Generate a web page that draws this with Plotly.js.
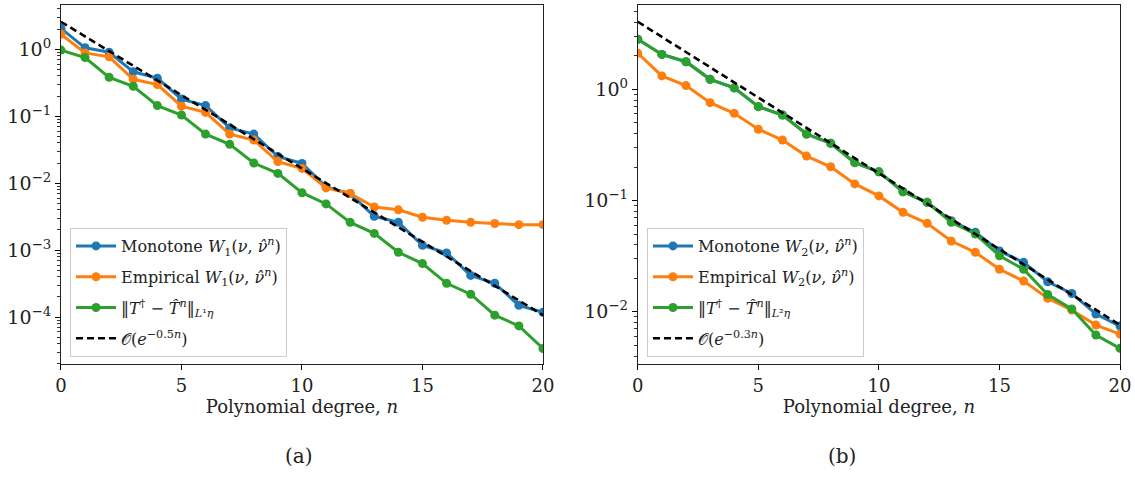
<!DOCTYPE html>
<html>
<head>
<meta charset="utf-8">
<script src="https://cdn.plot.ly/plotly-3.0.1.min.js"></script>
<style>html,body{margin:0;padding:0;background:#fff;}</style>
</head>
<body>
<div id="chart" style="width:1135px;height:481px;"></div>
<script>
// ---- data ----
const degrees = [0,1,2,3,4,5,6,7,8,9,10,11,12,13,14,15,16,17,18,19,20];

// panel (a)
const monotoneW1 = [2.05,1.05,0.90,0.46,0.37,0.18,0.144,0.067,0.054,0.025,0.0197,0.0088,0.0070,0.0032,0.0026,0.00118,0.00091,0.00042,0.00032,0.00015,0.000118];
const empiricalW1 = [1.67,0.88,0.77,0.356,0.297,0.141,0.114,0.054,0.044,0.021,0.0166,0.0085,0.0070,0.0044,0.0040,0.0031,0.0028,0.0026,0.0025,0.0024,0.0024];
const mapErrL1 = [0.97,0.75,0.38,0.28,0.144,0.104,0.054,0.038,0.020,0.014,0.0072,0.0049,0.0026,0.00178,0.00093,0.00063,0.00032,0.00022,0.000107,0.000074,0.000034];
const rateA_n = [0,20];
const rateA = [2.57,0.000107];

// panel (b)
const monotoneW2 = [2.82,2.06,1.77,1.23,1.03,0.698,0.587,0.396,0.327,0.219,0.181,0.120,0.0963,0.0658,0.0518,0.0352,0.0278,0.0186,0.0146,0.00953,0.00744];
const empiricalW2 = [2.11,1.32,1.08,0.758,0.608,0.437,0.350,0.251,0.201,0.141,0.110,0.0783,0.0624,0.0432,0.0342,0.0241,0.0189,0.0132,0.01035,0.00759,0.00630];
const mapErrL2 = [2.82,2.06,1.77,1.23,1.03,0.698,0.587,0.396,0.327,0.219,0.181,0.120,0.0963,0.0637,0.050,0.0319,0.0241,0.0143,0.0106,0.00618,0.00469];
const rateB_n = [0,20];
const rateB = [4.05,0.0076];

// ticks
const xTickVals = [0,5,10,15,20];
const xTickText = ['0','5','10','15','20'];
const yTickValsA = [1,0.1,0.01,0.001,0.0001];
const yTickTextA = ['10<sup>0</sup>','10<sup>−1</sup>','10<sup>−2</sup>','10<sup>−3</sup>','10<sup>−4</sup>'];
const yTickValsB = [1,0.1,0.01];
const yTickTextB = ['10<sup>0</sup>','10<sup>−1</sup>','10<sup>−2</sup>'];

const namesA = [
  'Monotone <i>W</i><sub>1</sub>(<i>ν</i>, <i>ν̂</i><sup><i>n</i></sup>)',
  'Empirical <i>W</i><sub>1</sub>(<i>ν</i>, <i>ν̂</i><sup><i>n</i></sup>)',
  '‖<i>T</i><sup>†</sup> − <i>T̂</i><sup><i>n</i></sup>‖<sub><i>L</i>¹<i>η</i></sub>',
  '𝒪(<i>e</i><sup>−0.5<i>n</i></sup>)'
];
const namesB = [
  'Monotone <i>W</i><sub>2</sub>(<i>ν</i>, <i>ν̂</i><sup><i>n</i></sup>)',
  'Empirical <i>W</i><sub>2</sub>(<i>ν</i>, <i>ν̂</i><sup><i>n</i></sup>)',
  '‖<i>T</i><sup>†</sup> − <i>T̂</i><sup><i>n</i></sup>‖<sub><i>L</i>²<i>η</i></sub>',
  '𝒪(<i>e</i><sup>−0.3<i>n</i></sup>)'
];

const colors = ['#1f77b4','#ff7f0e','#2ca02c','#000000'];
const FONT = "'DejaVu Serif', serif";

function series(x, y, i, name, xa, ya, leg) {
  return {
    x: x, y: y, name: name, xaxis: xa, yaxis: ya, legend: leg,
    legendgroup: leg + i,
    type: 'scatter', mode: 'lines+markers',
    line: {color: colors[i], width: 3},
    marker: {color: colors[i], size: 9}
  };
}
function rate(x, y, name, xa, ya, leg) {
  return {
    x: x, y: y, name: name, xaxis: xa, yaxis: ya, legend: leg,
    legendgroup: leg + '3',
    type: 'scatter', mode: 'lines',
    line: {color: '#000', width: 2.6, dash: '7px,4px'}
  };
}

const traces = [
  series(degrees, monotoneW1, 0, namesA[0], 'x', 'y', 'legend'),
  series(degrees, empiricalW1, 1, namesA[1], 'x', 'y', 'legend'),
  series(degrees, mapErrL1, 2, namesA[2], 'x', 'y', 'legend'),
  rate(rateA_n, rateA, namesA[3], 'x', 'y', 'legend'),
  series(degrees, monotoneW2, 0, namesB[0], 'x2', 'y2', 'legend2'),
  series(degrees, empiricalW2, 1, namesB[1], 'x2', 'y2', 'legend2'),
  series(degrees, mapErrL2, 2, namesB[2], 'x2', 'y2', 'legend2'),
  rate(rateB_n, rateB, namesB[3], 'x2', 'y2', 'legend2')
];

function xaxis(dom, anchor) {
  return {
    domain: dom, anchor: anchor, range: [0, 20],
    tickmode: 'array', tickvals: xTickVals, ticktext: xTickText,
    ticks: 'outside', ticklen: 5, tickwidth: 1, tickcolor: '#000',
    showline: true, linecolor: '#222', linewidth: 1, mirror: true,
    showgrid: false, zeroline: false,
    tickfont: {family: FONT, size: 18, color: '#222'},
    title: {text: 'Polynomial degree, <i>n</i>', font: {family: FONT, size: 18, color: '#222'}, standoff: 4}
  };
}
function yaxis(dom, anchor, rng, tv, tt) {
  return {
    domain: dom, anchor: anchor, type: 'log', range: rng,
    tickmode: 'array', tickvals: tv, ticktext: tt,
    ticks: 'outside', ticklen: 5, tickwidth: 1, tickcolor: '#000',
    minor: {dtick: 'D1', ticks: 'outside', ticklen: 3, tickwidth: 0.8, tickcolor: '#000', showgrid: false},
    showline: true, linecolor: '#222', linewidth: 1, mirror: true,
    showgrid: false, zeroline: false,
    tickfont: {family: FONT, size: 19, color: '#222'}
  };
}

const ydom = [0.2432, 0.9896];
const legendStyle = (x) => ({
  x: x, y: 0.526, xanchor: 'left', yanchor: 'top',
  bgcolor: 'rgba(255,255,255,0.85)', bordercolor: '#cccccc', borderwidth: 1,
  font: {family: FONT, size: 16, color: '#222'},
  tracegroupgap: 7, itemwidth: 40
});

const layout = {
  width: 1135, height: 481,
  margin: {l: 0, r: 0, t: 0, b: 0},
  paper_bgcolor: '#fff', plot_bgcolor: '#fff',
  showlegend: true,
  xaxis: xaxis([0.0537, 0.4784], 'y'),
  yaxis: yaxis(ydom, 'x', [-4.70, 0.66], yTickValsA, yTickTextA),
  xaxis2: xaxis([0.5619, 0.9868], 'y2'),
  yaxis2: yaxis(ydom, 'x2', [-2.47, 0.758], yTickValsB, yTickTextB),
  legend: legendStyle(0.0617),
  legend2: legendStyle(0.570),
  annotations: [
    {text: '(a)', x: 0.249, y: 0.052, xref: 'paper', yref: 'paper', yanchor: 'middle', showarrow: false, font: {family: FONT, size: 20, color: '#222'}},
    {text: '(b)', x: 0.756, y: 0.052, xref: 'paper', yref: 'paper', yanchor: 'middle', showarrow: false, font: {family: FONT, size: 20, color: '#222'}}
  ]
};

Plotly.newPlot('chart', traces, layout, {staticPlot: true, displayModeBar: false});
</script>
</body>
</html>
